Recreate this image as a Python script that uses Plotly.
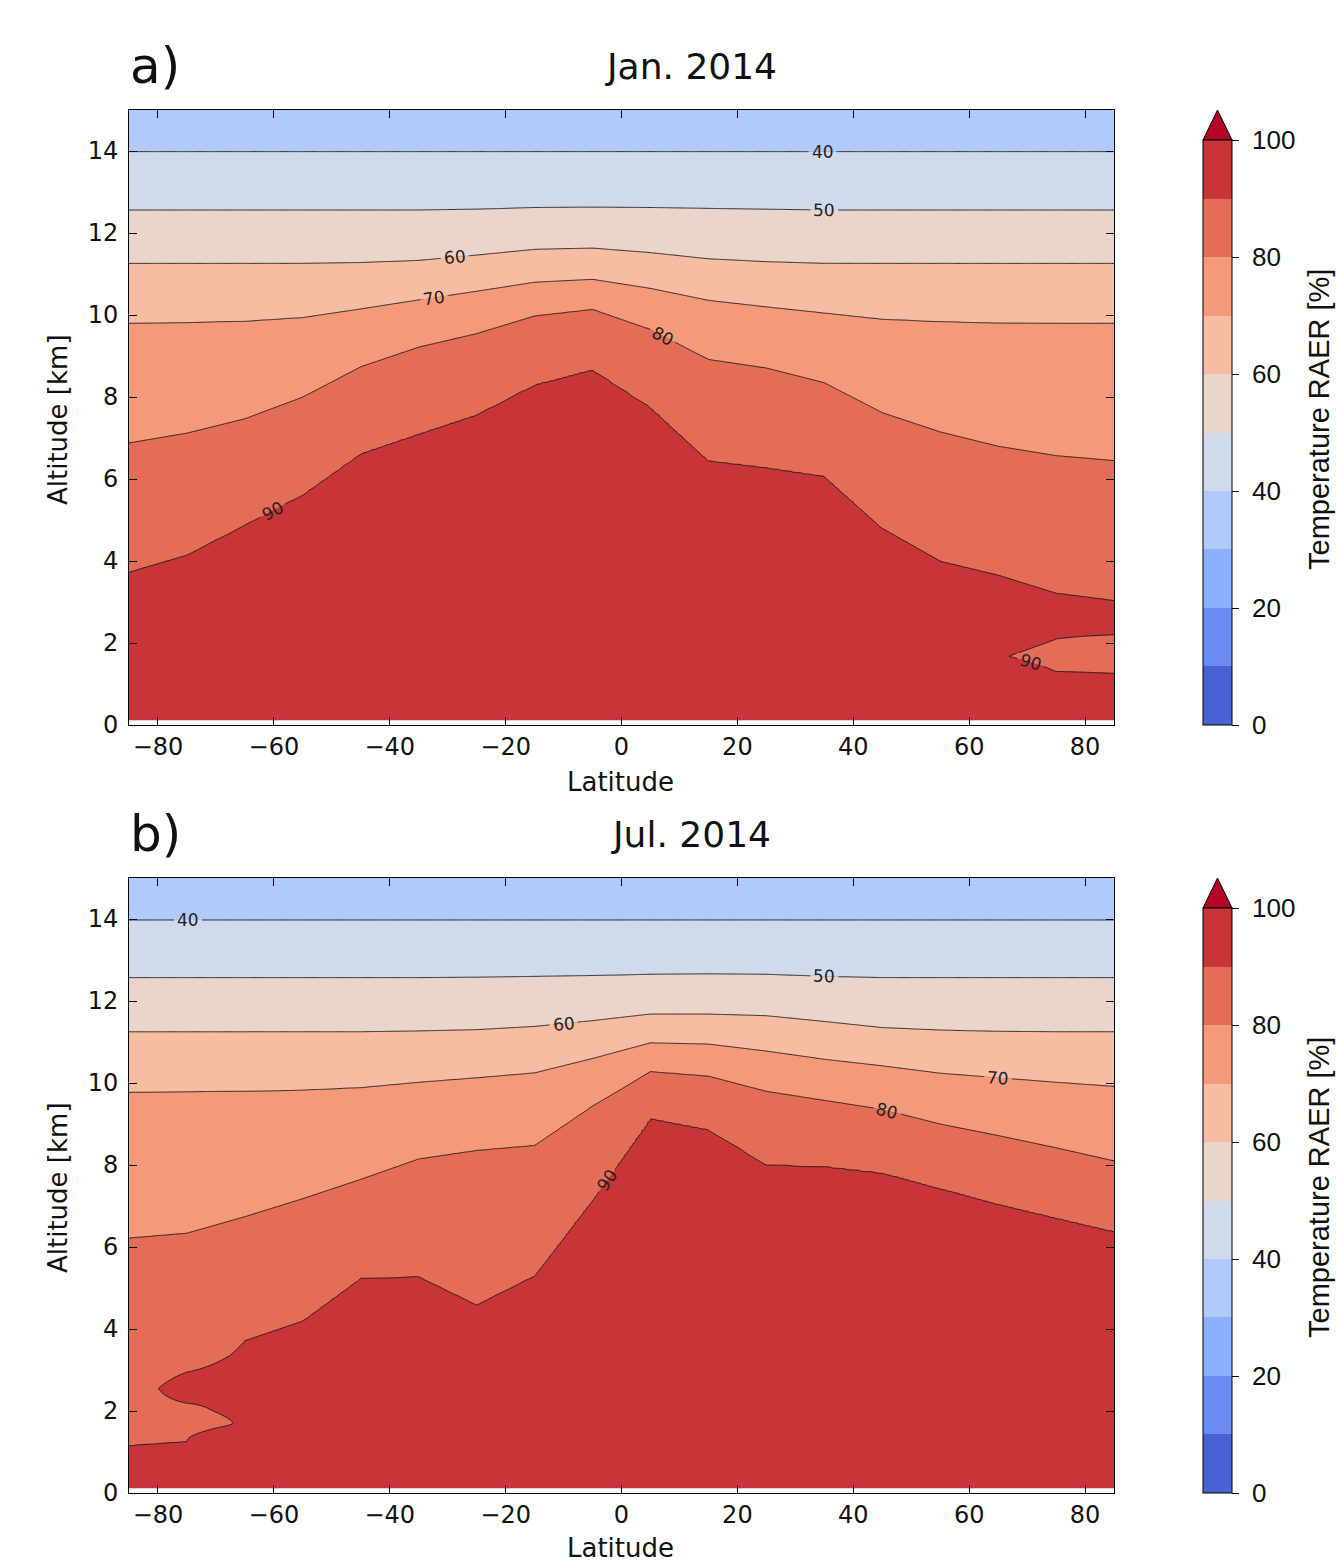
import numpy as np
import plotly.graph_objects as go

W, H = 1336, 1563

# ---------------- data ----------------
lats = [-85, -75, -65, -55, -45, -35, -25, -15, -5, 5, 15, 25, 35, 45, 55, 65, 75, 85]
contour_levels = [40, 50, 60, 70, 80, 90]

# altitude [km] of each RAER isoline at each latitude, January 2014
jan_h40 = [13.98, 13.98, 13.98, 13.98, 13.98, 13.98, 13.98, 13.98, 13.98, 13.98, 13.98, 13.98, 13.98, 13.98, 13.98, 13.98, 13.98, 13.98]
jan_h50 = [12.56, 12.56, 12.56, 12.56, 12.56, 12.56, 12.58, 12.62, 12.63, 12.62, 12.60, 12.58, 12.56, 12.56, 12.56, 12.56, 12.56, 12.56]
jan_h60 = [11.26, 11.26, 11.26, 11.26, 11.28, 11.33, 11.46, 11.60, 11.63, 11.52, 11.37, 11.30, 11.26, 11.26, 11.26, 11.26, 11.26, 11.26]
jan_h70 = [9.80, 9.82, 9.85, 9.94, 10.15, 10.37, 10.58, 10.80, 10.87, 10.65, 10.36, 10.20, 10.05, 9.90, 9.84, 9.81, 9.80, 9.80]
jan_h80 = [6.88, 7.12, 7.47, 8.00, 8.74, 9.22, 9.55, 9.98, 10.14, 9.65, 8.92, 8.71, 8.35, 7.62, 7.15, 6.80, 6.57, 6.45]
jan_h90 = [3.73, 4.15, 4.88, 5.62, 6.62, 7.10, 7.57, 8.30, 8.67, 7.75, 6.45, 6.28, 6.07, 4.80, 4.00, 3.66, 3.22, 3.04]
# (latitude, altitude, RAER) : the low-level pocket below 90 % near 75-85 N
jan_extra = [(65, 1.67, 90.4), (75, 1.30, 90.0), (75, 1.70, 88.0), (75, 2.09, 90.0), (75, 2.65, 91.0),
             (85, 1.25, 90.0), (85, 1.72, 88.0), (85, 2.20, 90.0), (85, 2.62, 91.0)]

# July 2014
jul_h40 = [13.97, 13.97, 13.97, 13.97, 13.97, 13.97, 13.97, 13.97, 13.97, 13.97, 13.97, 13.97, 13.97, 13.97, 13.97, 13.97, 13.97, 13.97]
jul_h50 = [12.57, 12.57, 12.57, 12.57, 12.57, 12.57, 12.58, 12.60, 12.62, 12.65, 12.66, 12.65, 12.60, 12.57, 12.57, 12.57, 12.57, 12.57]
jul_h60 = [11.25, 11.25, 11.25, 11.25, 11.25, 11.27, 11.30, 11.38, 11.52, 11.68, 11.68, 11.64, 11.50, 11.35, 11.29, 11.26, 11.25, 11.25]
jul_h70 = [9.78, 9.79, 9.80, 9.83, 9.89, 10.02, 10.13, 10.25, 10.60, 10.98, 10.95, 10.78, 10.58, 10.42, 10.24, 10.13, 10.02, 9.92]
jul_h80 = [6.22, 6.34, 6.74, 7.18, 7.65, 8.15, 8.36, 8.48, 9.44, 10.28, 10.17, 9.80, 9.58, 9.36, 9.00, 8.72, 8.42, 8.10]
jul_h90 = [1.15, 1.25, 3.72, 4.20, 5.24, 5.28, 4.59, 5.30, 7.15, 9.14, 8.87, 8.01, 7.97, 7.81, 7.43, 7.05, 6.71, 6.38]
# tongue of values below 90 % and the layer above 90 % near 75-65 S
jul_extra = [(-75, 1.72, 86.0), (-75, 2.19, 90.0), (-75, 2.55, 92.7), (-75, 2.95, 90.0), (-75, 3.60, 88.1),
             (-65, 1.66, 90.5), (-65, 3.00, 91.5)]

surface_value = 95.0   # RAER at the ground
top_value = 36.0       # RAER at 15 km
model_top = 15.0
lowest_level = 0.115   # first altitude with data

# contour labels : (level, latitude, crossing index counted from the ground)
jan_labels = [(40, 34.7, 0), (50, 35.0, 0), (60, -28.8, 0), (70, -32.3, 0), (80, 7.1, 0), (90, -60.2, 0), (90, 70.6, 0)]
jul_labels = [(40, -74.8, 0), (50, 35.0, 0), (60, -10.0, 0), (70, 65.0, 0), (80, 45.9, 0), (90, -2.5, 0)]

x_ticks = [-80, -60, -40, -20, 0, 20, 40, 60, 80]
y_ticks = [0, 2, 4, 6, 8, 10, 12, 14]
cbar_ticks = [0, 20, 40, 60, 80, 100]
panel_letters = ["a)", "b)"]
panel_titles = ["Jan. 2014", "Jul. 2014"]
cbar_title = "Temperature RAER [%]"

# ---------------- style ----------------
band_colors = ['rgb(73,98,211)', 'rgb(106,140,240)', 'rgb(141,176,254)', 'rgb(176,202,252)',
               'rgb(208,218,235)', 'rgb(233,213,202)', 'rgb(247,189,162)', 'rgb(244,154,123)',
               'rgb(228,109,87)', 'rgb(199,53,56)']
over_color = 'rgb(180,4,38)'
under_color = 'rgb(59,76,192)'
FONT = "DejaVu Sans"
CBFONT = "Liberation Sans"
TXT = '#111111'

# pixel layout
PL, PR = 129, 1114
PT, PB = 110, 725
OFF = 768
CB_X0, CB_W = 1203, 29
CB_TOP = 140
SUPPORT = 0.35  # km over which an extra-knot perturbation fades out

alts = np.append(np.arange(lowest_level, model_top - 0.001, 0.04), model_top)
lat_fine = np.round(np.arange(lats[0], lats[-1] + 0.001, 0.5), 2)


def interp_knots(knots, x):
    knots = sorted(knots)
    return np.interp(x, [k[0] for k in knots], [k[1] for k in knots])


def build_field(hs, extra):
    # localized perturbation columns produced by the extra knots at grid latitudes
    pert = np.zeros((len(alts), len(lats)))
    for j, lat in enumerate(lats):
        kn = [(0.0, surface_value), (model_top, top_value)] + \
             [(arr[j], float(lev)) for lev, arr in zip(contour_levels, hs)]
        ex = sorted((a, v) for la, a, v in extra if la == lat)
        if ex:
            pk = [(ex[0][0] - SUPPORT, 0.0), (ex[-1][0] + SUPPORT, 0.0)] + \
                 [(a, v - float(interp_knots(kn, a))) for a, v in ex]
            pert[:, j] = interp_knots(pk, alts)
    Z = np.empty((len(alts), len(lat_fine)))
    for i, lf in enumerate(lat_fine):
        kn = [(0.0, surface_value), (model_top, top_value)] + \
             [(float(np.interp(lf, lats, arr)), float(lev)) for lev, arr in zip(contour_levels, hs)]
        j0 = min(int(np.searchsorted(lats, lf, side='right')) - 1, len(lats) - 2)
        t = (lf - lats[j0]) / (lats[j0 + 1] - lats[j0])
        Z[:, i] = interp_knots(kn, alts) + (1 - t) * pert[:, j0] + t * pert[:, j0 + 1]
    return np.round(Z, 3)


Z_jan = build_field([jan_h40, jan_h50, jan_h60, jan_h70, jan_h80, jan_h90], jan_extra)
Z_jul = build_field([jul_h40, jul_h50, jul_h60, jul_h70, jul_h80, jul_h90], jul_extra)

# contour colorscale : plotly maps colorscale [0,1] onto [start - size/2, end + size/2]
start, size, end = 0, 10, 100
allc = [under_color] + band_colors + [over_color]
span = (end - start) / size + 1  # 11
cscale = []
for k, c in enumerate(allc):
    lo = max(0.0, (k - 0.5) / span)
    hi = min(1.0, (k + 0.5) / span)
    cscale.append([lo, c])
    cscale.append([hi, c])

cb_scale = []
for k, c in enumerate(band_colors):
    cb_scale.append([k / 10, c])
    cb_scale.append([(k + 1) / 10, c])


def px2paper(x, y):
    return x / W, 1 - y / H


def crossings(Z, lat, level):
    j0 = min(int(np.searchsorted(lat_fine, lat, side='right')) - 1, len(lat_fine) - 2)
    t = (lat - lat_fine[j0]) / (lat_fine[j0 + 1] - lat_fine[j0])
    col = (1 - t) * Z[:, j0] + t * Z[:, j0 + 1]
    d = col - level
    out = []
    for i in range(len(d) - 1):
        if d[i] == 0:
            out.append(alts[i])
        elif d[i] * d[i + 1] < 0:
            f = d[i] / (d[i] - d[i + 1])
            out.append(alts[i] + f * (alts[i + 1] - alts[i]))
    return out


fig = go.Figure()
xppd = (PR - PL) / 170.0
yppk = (PB - PT) / 15.0
GAP_PX = 28.0
HALF_T = 6.0 / yppk

for p, (Z, labels) in enumerate([(Z_jan, jan_labels), (Z_jul, jul_labels)]):
    off = OFF * p
    xa = 'x' if p == 0 else 'x2'
    ya = 'y' if p == 0 else 'y2'
    fig.add_trace(go.Contour(
        x=lat_fine, y=alts, z=Z, colorscale=cscale, autocontour=False,
        contours=dict(start=start, end=end, size=size, coloring='fill', showlines=True),
        line=dict(color='rgba(20,20,20,0.9)', width=1, smoothing=0),
        showscale=False, hoverinfo='skip', xaxis=xa, yaxis=ya))
    # colorbar
    cb_y = 1 - ((CB_TOP + PB) / 2 + off) / H
    fig.add_trace(go.Scatter(
        x=[None], y=[None], mode='markers', showlegend=False, hoverinfo='skip',
        xaxis=xa, yaxis=ya,
        marker=dict(color=[50], cmin=0, cmax=100, colorscale=cb_scale, showscale=True,
                    colorbar=dict(x=CB_X0 / W, xanchor='left', xpad=0, y=cb_y, yanchor='middle', ypad=0,
                                  len=PB - CB_TOP, lenmode='pixels', thickness=CB_W, thicknessmode='pixels',
                                  outlinewidth=1, outlinecolor='black', tickvals=cbar_ticks,
                                  showticklabels=False,
                                  ticks='outside', ticklen=7, tickwidth=1, tickcolor='black'))))
    # colorbar tick labels
    for v in cbar_ticks:
        vx, vy = px2paper(CB_X0 + CB_W + 19, PB + off - v / 100 * (PB - CB_TOP))
        fig.add_annotation(x=vx, y=vy, xref='paper', yref='paper', text=str(v), showarrow=False,
                           font=dict(family=CBFONT, size=26, color=TXT), xanchor='left', yanchor='middle',
                           borderpad=0)
    # extension triangle of the colorbar
    x0, y0 = px2paper(CB_X0, CB_TOP + off)
    x1, _ = px2paper(CB_X0 + CB_W, CB_TOP + off)
    xm, ym = px2paper(CB_X0 + CB_W / 2, CB_TOP - 30 + off)
    fig.add_shape(type='path', xref='paper', yref='paper',
                  path=f"M {x0},{y0} L {x1},{y0} L {xm},{ym} Z",
                  fillcolor=over_color, line=dict(color='black', width=1))
    # colorbar title
    tx, ty = px2paper(1319, 420 + off)
    fig.add_annotation(x=tx, y=ty, xref='paper', yref='paper', text=cbar_title, textangle=-90,
                       showarrow=False, font=dict(family=CBFONT, size=29, color=TXT),
                       xanchor='center', yanchor='middle', borderpad=0)
    # panel letter + title
    lx, ly = px2paper(128, 66 + off)
    fig.add_annotation(x=lx, y=ly, xref='paper', yref='paper', text=panel_letters[p], showarrow=False,
                       font=dict(family=FONT, size=50, color=TXT), xanchor='left', yanchor='middle')
    tx, ty = px2paper(691, 67 + off)
    fig.add_annotation(x=tx, y=ty, xref='paper', yref='paper', text=panel_titles[p], showarrow=False,
                       font=dict(family=FONT, size=36, color=TXT), xanchor='center', yanchor='middle')
    # axis titles
    tx, ty = px2paper(620, 782 + off - (2 if p == 1 else 0))
    fig.add_annotation(x=tx, y=ty, xref='paper', yref='paper', text="Latitude", showarrow=False,
                       font=dict(family=FONT, size=26, color=TXT), xanchor='center', yanchor='middle',
                       borderpad=0)
    tx, ty = px2paper(58, 420 + off)
    fig.add_annotation(x=tx, y=ty, xref='paper', yref='paper', text="Altitude [km]", showarrow=False,
                       textangle=-90, font=dict(family=FONT, size=26, color=TXT),
                       xanchor='center', yanchor='middle')
    # inline contour labels (line gap filled with the two neighbouring band colours)
    for lev, lat, k in labels:
        h = crossings(Z, lat, lev)[k]
        h1 = crossings(Z, lat - 1.0, lev)[k]
        h2 = crossings(Z, lat + 1.0, lev)[k]
        ang = np.arctan2((h2 - h1) * yppk, 2.0 * xppd)
        wd = GAP_PX / 2 * np.cos(ang) / xppd
        hl = crossings(Z, lat - wd, lev)[k]
        hr = crossings(Z, lat + wd, lev)[k]
        xl, xr = lat - wd, lat + wd
        up = f"M {xl},{hl} L {xr},{hr} L {xr},{hr + HALF_T} L {xl},{hl + HALF_T} Z"
        dn = f"M {xl},{hl - HALF_T} L {xr},{hr - HALF_T} L {xr},{hr} L {xl},{hl} Z"
        fig.add_shape(type='path', xref=xa, yref=ya, path=up, layer='above',
                      fillcolor=band_colors[lev // 10 - 1], line=dict(width=0))
        fig.add_shape(type='path', xref=xa, yref=ya, path=dn, layer='above',
                      fillcolor=band_colors[lev // 10], line=dict(width=0))
        fig.add_annotation(x=lat, y=h, xref=xa, yref=ya, text=str(lev), showarrow=False,
                           textangle=float(-np.degrees(ang)),
                           font=dict(family=FONT, size=17, color='#222222'))

axis_common = dict(showline=True, linecolor='black', linewidth=1, mirror='ticks', ticks='inside',
                   ticklen=8, tickwidth=1, tickcolor='black', showgrid=False, zeroline=False,
                   automargin=False, tickfont=dict(family=FONT, size=24, color=TXT))
xdom = [PL / W, PR / W]
ydom_a = [1 - PB / H, 1 - PT / H]
ydom_b = [1 - (PB + OFF) / H, 1 - (PT + OFF) / H]

fig.update_layout(
    width=W, height=H, autosize=False,
    margin=dict(l=0, r=0, t=0, b=0, pad=0, autoexpand=False),
    paper_bgcolor='white', plot_bgcolor='white', showlegend=False,
    xaxis=dict(domain=xdom, anchor='y', range=[-85, 85], tickvals=x_ticks, ticklabelstandoff=0, **axis_common),
    yaxis=dict(domain=ydom_a, anchor='x', range=[0, 15], tickvals=y_ticks, ticklabelstandoff=5, **axis_common),
    xaxis2=dict(domain=xdom, anchor='y2', range=[-85, 85], tickvals=x_ticks, ticklabelstandoff=0, **axis_common),
    yaxis2=dict(domain=ydom_b, anchor='x2', range=[0, 15], tickvals=y_ticks, ticklabelstandoff=5, **axis_common),
)

fig.write_html("out.html", config={'displayModeBar': False},
               post_script="document.body.style.margin='0px';document.body.style.overflow='hidden';")
